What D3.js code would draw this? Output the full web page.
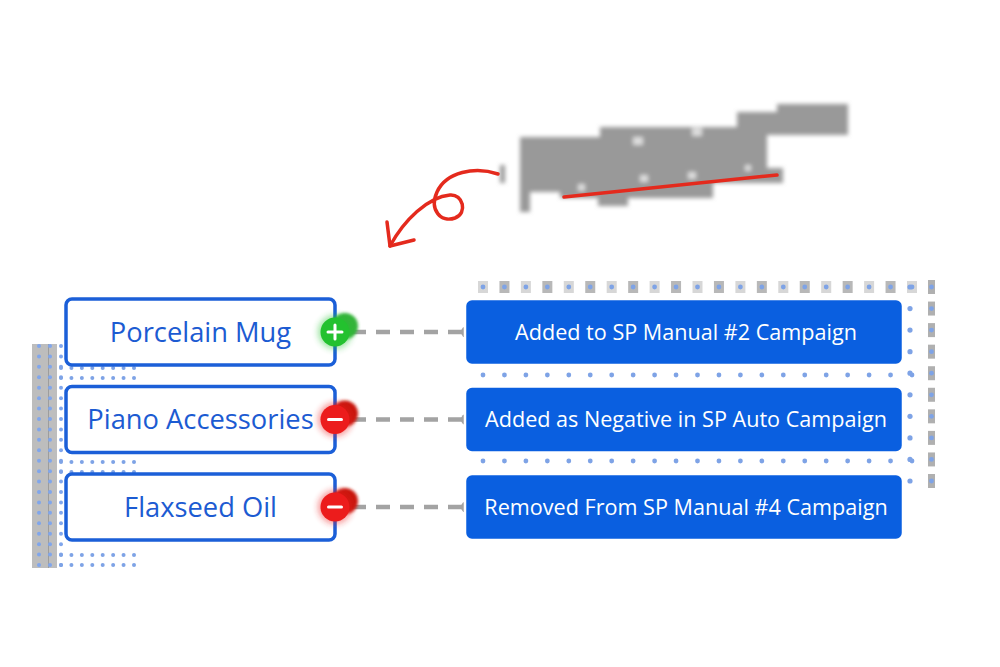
<!DOCTYPE html>
<html><head><meta charset="utf-8">
<script src="https://cdn.jsdelivr.net/npm/d3@7"></script>
<style>html,body{margin:0;padding:0;background:#fff;}svg{display:block;}</style>
</head><body>
<svg id="c" width="1000" height="667"></svg>
<script>
// ---- data ----
const keywords = ["Porcelain Mug", "Piano Accessories", "Flaxseed Oil"];
const actions = ["Added to SP Manual #2 Campaign", "Added as Negative in SP Auto Campaign", "Removed From SP Manual #4 Campaign"];
const signs = ["+", "−", "−"];
const signKinds = ["add", "remove", "remove"];

const svg = d3.select("#c");
const defs = svg.append("defs");
defs.append("filter").attr("id","blur3").attr("x","-50%").attr("y","-50%").attr("width","200%").attr("height","200%")
  .append("feGaussianBlur").attr("stdDeviation",3);
defs.append("filter").attr("id","blur1").attr("x","-20%").attr("y","-50%").attr("width","140%").attr("height","200%")
  .append("feGaussianBlur").attr("stdDeviation",2);
defs.append("filter").attr("id","blur2").attr("x","-50%").attr("y","-50%").attr("width","200%").attr("height","200%")
  .append("feGaussianBlur").attr("stdDeviation",1.5);

// scales
const y = d3.scalePoint().domain(d3.range(keywords.length)).range([332, 507]);
const xL = d3.scaleLinear().domain([0,1]).range([66, 335]);
const xR = d3.scaleLinear().domain([0,1]).range([465, 903]);
const boxH = 66;
const colorSign = d3.scaleOrdinal().domain(["add","remove"]).range(["#23c12f","#ec1c1c"]);
const colorShadow = d3.scaleOrdinal().domain(["add","remove"]).range(["#35b33a","#c8150f"]);

// ---- decorative dot grids ----
const dotG = svg.append("g");
const dxR = d3.scaleLinear().domain([0,20]).range([483, 912]);
const rowsR = [287, 375, 461];
dotG.selectAll(".gsqT").data(d3.range(0,21)).join("rect")
  .attr("x", i => dxR(i)-5).attr("y", 281).attr("width", 10).attr("height", 12)
  .attr("fill", "#b0b0b0").attr("opacity", i => i%2 ? 0.9 : 0.5);
const dyC = d3.scaleLinear().domain([0,9]).range([287, 481]);
dotG.selectAll(".gsqC").data(d3.range(0,10)).join("rect")
  .attr("x", 928).attr("y", i => dyC(i)-7).attr("width", 7).attr("height", 14)
  .attr("fill", "#b0b0b0");
rowsR.forEach(ry => {
  dotG.selectAll(null).data(d3.range(0,21)).join("circle")
    .attr("cx", i => dxR(i)).attr("cy", ry).attr("r", 2.4).attr("fill", "#7ea3e6");
});
dotG.selectAll(".colR").data(d3.range(0,10)).join("circle")
  .attr("cx", 910).attr("cy", i => dyC(i)).attr("r", 2.6).attr("fill", "#7ea3e6");
dotG.selectAll(".colR2").data(d3.range(0,10)).join("circle")
  .attr("cx", 931.5).attr("cy", i => dyC(i)).attr("r", 2.4).attr("fill", "#7ea3e6");

// left side dotted frame
dotG.append("rect").attr("x", 32).attr("y", 344).attr("width", 17).attr("height", 224).attr("fill", "#bdbdbd");
dotG.append("rect").attr("x", 48).attr("y", 344).attr("width", 9).attr("height", 224).attr("fill", "#7d7d7d").attr("opacity", 0.5);
const dyL = d3.scaleLinear().domain([0,21]).range([346, 565]);
[39, 50, 61].forEach(cx => {
  dotG.selectAll(null).data(d3.range(0,22)).join("circle")
    .attr("cx", cx).attr("cy", i => dyL(i)).attr("r", 2).attr("fill", "#80a6ec");
});
const dxL = d3.scaleLinear().domain([0,7]).range([61, 134]);
[368, 378, 462, 472, 555, 565].forEach(ry => {
  dotG.selectAll(null).data(d3.range(0,8)).join("circle")
    .attr("cx", i => dxL(i)).attr("cy", ry).attr("r", 2).attr("fill", "#7ea3e6");
});

// ---- blurred pixel headline (censored scribble) ----
const mosaic = [
  [520,137,80,55],[520,180,10,32],[600,127,167,48],[560,175,153,23],[713,168,70,15],
  [737,112,111,23],[777,104,71,14],[500,165,5,18],[598,192,30,14]
];
const holes = [[633,137,10,8],[692,128,10,8],[578,184,7,7],[640,175,8,7],[688,172,8,7],[745,165,6,6]];
const mg = svg.append("g").attr("filter","url(#blur1)");
mg.selectAll("rect.m").data(mosaic).join("rect").attr("class","m")
  .attr("x", d=>d[0]).attr("y", d=>d[1]).attr("width", d=>d[2]).attr("height", d=>d[3]).attr("fill", "#999");
mg.selectAll("rect.h").data(holes).join("rect").attr("class","h")
  .attr("x", d=>d[0]).attr("y", d=>d[1]).attr("width", d=>d[2]).attr("height", d=>d[3]).attr("fill", "#ddd");

// red underline + arrow
const red = "#e42a1d";
svg.append("path").attr("d", d3.line()([[564,197],[777,175]]))
  .attr("stroke", red).attr("stroke-width", 3.5).attr("stroke-linecap","round").attr("fill","none");
svg.append("path")
  .attr("d", "M498,174 C475,166 446,172 437,192 C429,210 441,223 455,218 C468,213 463,194 450,195 C428,197 404,220 390,246")
  .attr("stroke", red).attr("stroke-width", 3.5).attr("fill","none").attr("stroke-linecap","round");
svg.append("path").attr("d", "M387,222 L390,246 L414,240")
  .attr("stroke", red).attr("stroke-width", 3.5).attr("fill","none").attr("stroke-linecap","round").attr("stroke-linejoin","round");

// ---- rows ----
const rows = svg.selectAll("g.row").data(keywords.map((k,i)=>({k, a:actions[i], s:signs[i], kind:signKinds[i], i})))
  .join("g").attr("class","row");

rows.append("line")
  .attr("x1", 352).attr("x2", xR(0)).attr("y1", d=>y(d.i)).attr("y2", d=>y(d.i))
  .attr("stroke", "#a3a3a3").attr("stroke-width", 4.5).attr("stroke-dasharray", "14,10");
rows.append("circle").attr("cx", xR(0)+2).attr("cy", d=>y(d.i)).attr("r", 6).attr("fill", "#a3a3a3");

rows.append("rect")
  .attr("x", xL(0)).attr("y", d=>y(d.i)-boxH/2).attr("width", xL(1)-xL(0)).attr("height", boxH)
  .attr("rx", 6).attr("fill", "#fff").attr("stroke", "#1b5fd8").attr("stroke-width", 3.5);
rows.append("text")
  .attr("x", (xL(0)+xL(1))/2).attr("y", d=>y(d.i)).attr("dy", "0.35em")
  .attr("text-anchor","middle").attr("font-family","'Open Sans', sans-serif").attr("font-size", 27.3)
  .attr("fill", "#1c5bd2").text(d=>d.k);

rows.append("rect")
  .attr("x", xR(0)).attr("y", d=>y(d.i)-boxH/2).attr("width", xR(1)-xR(0)).attr("height", boxH)
  .attr("rx", 7).attr("fill", "#0a5fe0").attr("stroke", "#fff").attr("stroke-width", 2.5);
rows.append("text")
  .attr("x", (xR(0)+xR(1))/2 + 2).attr("y", d=>y(d.i)).attr("dy", "0.35em")
  .attr("text-anchor","middle").attr("font-family","'Open Sans', sans-serif").attr("font-size", 21.6)
  .attr("fill", "#fff").text(d=>d.a);

rows.append("circle").attr("cx", xL(1)+10).attr("cy", d=>y(d.i)-6).attr("r", 13)
  .attr("fill", d=>colorShadow(d.kind)).attr("filter","url(#blur2)");
rows.append("circle").attr("cx", xL(1)).attr("cy", d=>y(d.i)).attr("r", 17)
  .attr("fill", d=>colorSign(d.kind)).attr("opacity", 0.45).attr("filter","url(#blur3)");
rows.append("circle").attr("cx", xL(1)).attr("cy", d=>y(d.i)).attr("r", 14.5)
  .attr("fill", d=>colorSign(d.kind));
rows.append("path")
  .attr("d", d => d.s === "+" ? `M${xL(1)-7},${y(d.i)}H${xL(1)+7}M${xL(1)},${y(d.i)-7}V${y(d.i)+7}` : `M${xL(1)-6.5},${y(d.i)}H${xL(1)+6.5}`)
  .attr("stroke", "#fff").attr("stroke-width", 3).attr("stroke-linecap","round");
</script>
</body></html>
